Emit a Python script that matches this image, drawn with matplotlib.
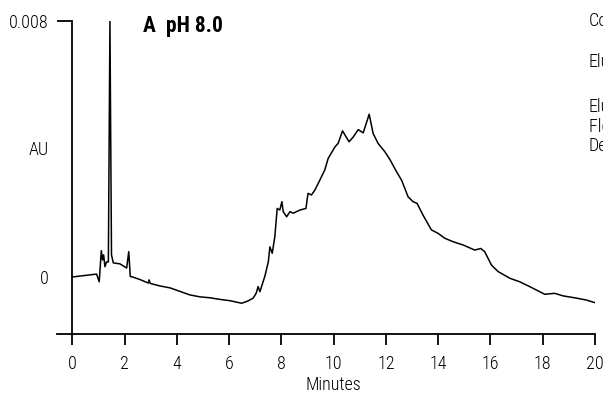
import matplotlib
matplotlib.use("Agg")
import matplotlib.pyplot as plt

plt.rcParams['font.family'] = ['Roboto Condensed', 'Archivo Narrow', 'DejaVu Sans']
plt.rcParams['font.weight'] = 'light'
plt.rcParams['axes.labelweight'] = 'light'

# chromatogram trace (minutes, mAU)
minutes = [0.00, 0.93, 1.03, 1.11, 1.16, 1.20, 1.25, 1.31, 1.38, 1.44, 1.50, 1.57,
           1.82, 2.08, 2.12, 2.16, 2.22, 2.27, 2.59, 2.91, 2.94, 2.98, 3.35, 3.74,
           4.12, 4.50, 4.88, 5.27, 5.65, 6.03, 6.48, 6.72, 6.92, 7.04, 7.11, 7.18,
           7.37, 7.50, 7.56, 7.65, 7.75, 7.84, 7.94, 8.02, 8.07, 8.20, 8.33, 8.45,
           8.71, 8.94, 9.02, 9.15, 9.28, 9.47, 9.66, 9.79, 10.05, 10.17, 10.34, 10.59,
           10.75, 10.94, 11.13, 11.36, 11.51, 11.70, 11.96, 12.15, 12.41, 12.60, 12.85,
           13.04, 13.19, 13.42, 13.74, 14.00, 14.25, 14.57, 14.95, 15.40, 15.63, 15.78,
           16.04, 16.29, 16.74, 17.12, 17.50, 18.08, 18.46, 18.78, 19.29, 19.67, 19.99]
mau = [0.00, 0.09, -0.15, 0.82, 0.53, 0.69, 0.32, 0.47, 0.47, 8.00, 0.69, 0.44,
       0.41, 0.28, 0.53, 0.79, 0.01, 0.01, -0.08, -0.19, -0.09, -0.20, -0.28, -0.34,
       -0.45, -0.56, -0.62, -0.65, -0.70, -0.74, -0.82, -0.75, -0.66, -0.50, -0.30, -0.46,
       0.03, 0.47, 0.94, 0.74, 1.26, 2.14, 2.09, 2.35, 2.04, 1.88, 2.04, 1.99,
       2.09, 2.14, 2.61, 2.56, 2.71, 3.02, 3.34, 3.70, 4.06, 4.17, 4.56, 4.22,
       4.37, 4.60, 4.50, 5.08, 4.48, 4.17, 3.91, 3.67, 3.28, 3.02, 2.50,
       2.35, 2.30, 1.93, 1.47, 1.36, 1.21, 1.10, 1.00, 0.84, 0.89, 0.79,
       0.37, 0.17, -0.04, -0.15, -0.30, -0.54, -0.51, -0.59, -0.66, -0.72, -0.80]
au = [v / 1000 for v in mau]

x_ticks = list(range(0, 21, 2))
side_notes = ["Column:", "Eluent:", "Elution:", "Flow Rate:", "Detection:"]
side_y = [20.7, 62, 107.5, 126.5, 146]

W, H = 603, 395
fig = plt.figure(figsize=(W / 100, H / 100), dpi=100)
ax = fig.add_axes([57 / W, 1 - 334 / H, (595 - 57) / W, (334 - 20.7) / H])

ax.plot(minutes, au, color='black', lw=1.1)

ax.set_xlim(-0.585, 20)
ax.set_ylim(-0.00178, 0.008)
ax.spines['top'].set_visible(False)
ax.spines['right'].set_visible(False)
ax.spines['left'].set_position(('data', 0))
for s in ('left', 'bottom'):
    ax.spines[s].set_linewidth(1.3)

ax.set_xticks(x_ticks)
ax.tick_params(axis='x', direction='out', length=8, width=1.3, labelsize=13, pad=7)
ax.set_yticks([0, 0.008], labels=['0', '0.008'])
ax.tick_params(axis='y', direction='out', length=11, width=1.3, labelsize=13, pad=6)
ax.yaxis.get_major_ticks()[0].tick1line.set_visible(False)
ax.set_xlabel('Minutes', fontsize=13, fontweight='light')
ax.xaxis.set_label_coords(10.585 / 20.585, -0.135)

fig.text(49 / W, 1 - 150 / H, 'AU', ha='right', va='center', fontsize=13)
fig.text(143 / W, 1 - 26 / H, 'A  pH 8.0', ha='left', va='center', fontsize=15.5, fontweight='bold')
for note, yp in zip(side_notes, side_y):
    fig.text(589 / W, 1 - yp / H, note, ha='left', va='center', fontsize=13)

fig.savefig('out.png', dpi=100)
